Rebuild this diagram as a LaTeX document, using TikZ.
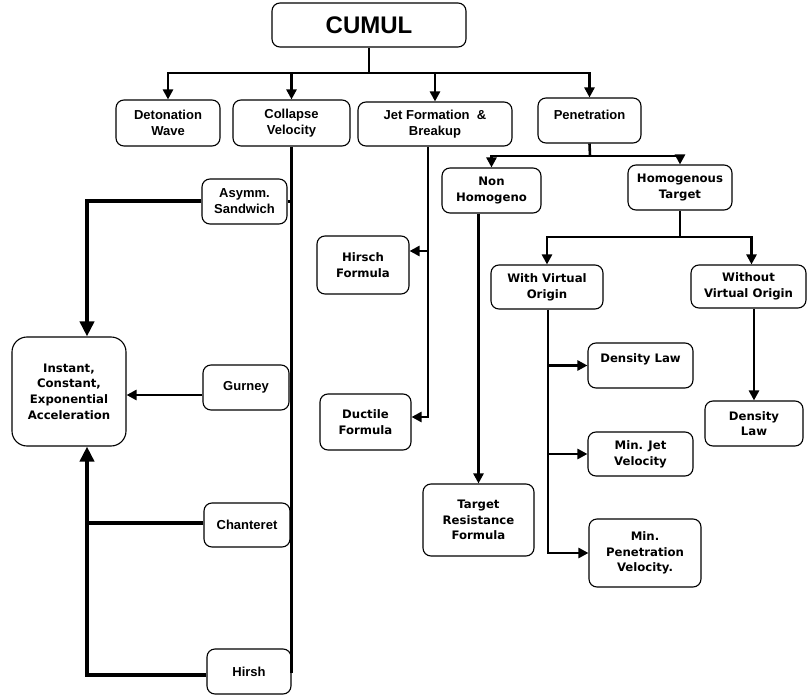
\documentclass[tikz,border=0pt]{standalone}
\usepackage{fontspec}
\setmainfont{Liberation Sans}
\newfontfamily\vfont{DejaVu Sans}
\usetikzlibrary{arrows.meta}
\begin{document}
\begin{tikzpicture}[x=1pt,y=-1pt,
  box/.style={draw, line width=1.1pt, rounded corners=8pt, inner sep=0pt, align=center,
    font=\fontsize{13}{16}\selectfont\bfseries},
  vbox/.style={box, font=\vfont\fontsize{11.7}{15.7}\selectfont\bfseries},
  conn/.style={line width=2.6pt},
  arr/.style={conn, -{Triangle[length=10pt,width=10pt]}},
  heavy/.style={line width=4pt},
  harr/.style={heavy, -{Triangle[length=15pt,width=14pt]}},
]
\useasboundingbox (0,0) rectangle (808,695);

% nodes
\node[box, font=\fontsize{24}{28}\selectfont\bfseries, minimum width=194pt, minimum height=44pt] (cumul) at (369,25) {CUMUL};
\node[box, minimum width=104pt, minimum height=46pt] (deton) at (168,123) {Detonation\\Wave};
\node[box, minimum width=117pt, minimum height=46pt] (collapse) at (291.5,123) {Collapse\\Velocity};
\node[box, minimum width=154pt, minimum height=44pt] (jet) at (435,124) {Jet Formation \ \&\\Breakup};
\node[box, minimum width=103pt, minimum height=45pt] (pen) at (589.5,120.5) {Penetration\rule[-12pt]{0pt}{12pt}};

\node[vbox, minimum width=99pt, minimum height=45pt] (nonhom) at (491.5,190.5) {Non\\Homogeno};
\node[vbox, minimum width=104pt, minimum height=45pt] (homog) at (680,187.5) {Homogenous\\Target};
\node[vbox, minimum width=112pt, minimum height=44pt] (withvo) at (547,287) {With Virtual\\Origin};
\node[vbox, minimum width=115pt, minimum height=43pt] (withoutvo) at (748.5,286.5) {Without\\Virtual Origin};
\node[vbox, minimum width=105pt, minimum height=45pt] (dens1) at (640.5,365.5) {Density Law\rule[-14pt]{0pt}{14pt}};
\node[vbox, minimum width=98pt, minimum height=45pt] (dens2) at (754,423.5) {Density\\Law};
\node[vbox, minimum width=105pt, minimum height=44pt] (minjet) at (640.5,454) {Min. Jet\\Velocity};
\node[vbox, minimum width=111pt, minimum height=72pt] (targres) at (478.5,520) {Target\\Resistance\\Formula};
\node[vbox, minimum width=112pt, minimum height=68pt] (minpen) at (645,553) {Min.\\Penetration\\Velocity.};

\node[vbox, minimum width=92pt, minimum height=58pt] (hirschf) at (363,265) {Hirsch\\Formula};
\node[vbox, minimum width=91pt, minimum height=56pt] (ductile) at (365.5,422) {Ductile\\Formula};

\node[box, minimum width=85pt, minimum height=45pt] (asymm) at (244.5,201.5) {Asymm.\\Sandwich};
\node[box, minimum width=86pt, minimum height=45pt] (gurney) at (246,387.5) {Gurney};
\node[box, minimum width=86pt, minimum height=44pt] (chant) at (247,525) {Chanteret};
\node[box, minimum width=84pt, minimum height=45pt] (hirsh) at (249,671.5) {Hirsh};
\node[vbox, rounded corners=15pt, minimum width=114pt, minimum height=109pt] (instant) at (69,391.5) {Instant,\\Constant,\\Exponential\\Acceleration};

% top level
\coordinate (bar1) at (369,73);
\draw[conn] (cumul.south) -- (bar1);
\draw[arr] (bar1) -| (deton.north);
\draw[arr] (bar1) -| (pen.north);
\draw[arr] (collapse.north |- bar1) -- (collapse.north);
\draw[arr] (jet.north |- bar1) -- (jet.north);

% penetration
\coordinate (bar2) at (590,156);
\draw[conn] (pen.south) -- (bar2);
\draw[arr] (bar2) -| (nonhom.north);
\draw[arr] (bar2) -| (homog.north);

% homogenous
\coordinate (bar3) at (680,237);
\draw[conn] (homog.south) -- (bar3);
\draw[arr] (bar3) -| (withvo.north);
\draw[arr] (bar3) -| ([xshift=3pt]withoutvo.north);
\draw[arr] (withoutvo.south -| dens2.north) -- (dens2.north);

% with virtual origin
\coordinate (wx) at (548,0);
\draw[arr] (withvo.south -| wx) |- (minpen.west);
\draw[arr] (wx |- dens1.west) -- (dens1.west);
\draw[arr] (wx |- minjet.west) -- (minjet.west);

% non homogeno
\draw[arr] (nonhom.south -| targres.north) -- (targres.north);

% jet formation
\coordinate (jx) at (428,0);
\coordinate (dua) at ([yshift=5pt]ductile.east);
\coordinate (hfa) at ([yshift=14pt]hirschf.east);
\draw[arr] (jet.south -| jx) |- (dua);
\draw[arr] (jx |- hfa) -- (hfa);

% collapse velocity
\draw[conn] (collapse.south) |- (hirsh.east);
\draw[conn] (asymm.east) -- (asymm.east -| collapse.south);
\draw[conn] (gurney.east) -- (gurney.east -| collapse.south);
\draw[conn] (chant.east) -- (chant.east -| collapse.south);

% to instant box
\coordinate (lx) at (87,0);
\coordinate (hi) at ([yshift=-3.5pt]hirsh.west);
\coordinate (ch) at ([yshift=2pt]chant.west);
\coordinate (gu) at ([yshift=-7.5pt]gurney.west);
\draw[harr] (asymm.west) -| (lx |- instant.north);
\draw[harr] (hi) -| (lx |- instant.south);
\draw[heavy] (ch) -- (ch -| lx);
\draw[arr] (gu) -- (gu -| instant.east);
\end{tikzpicture}
\end{document}
